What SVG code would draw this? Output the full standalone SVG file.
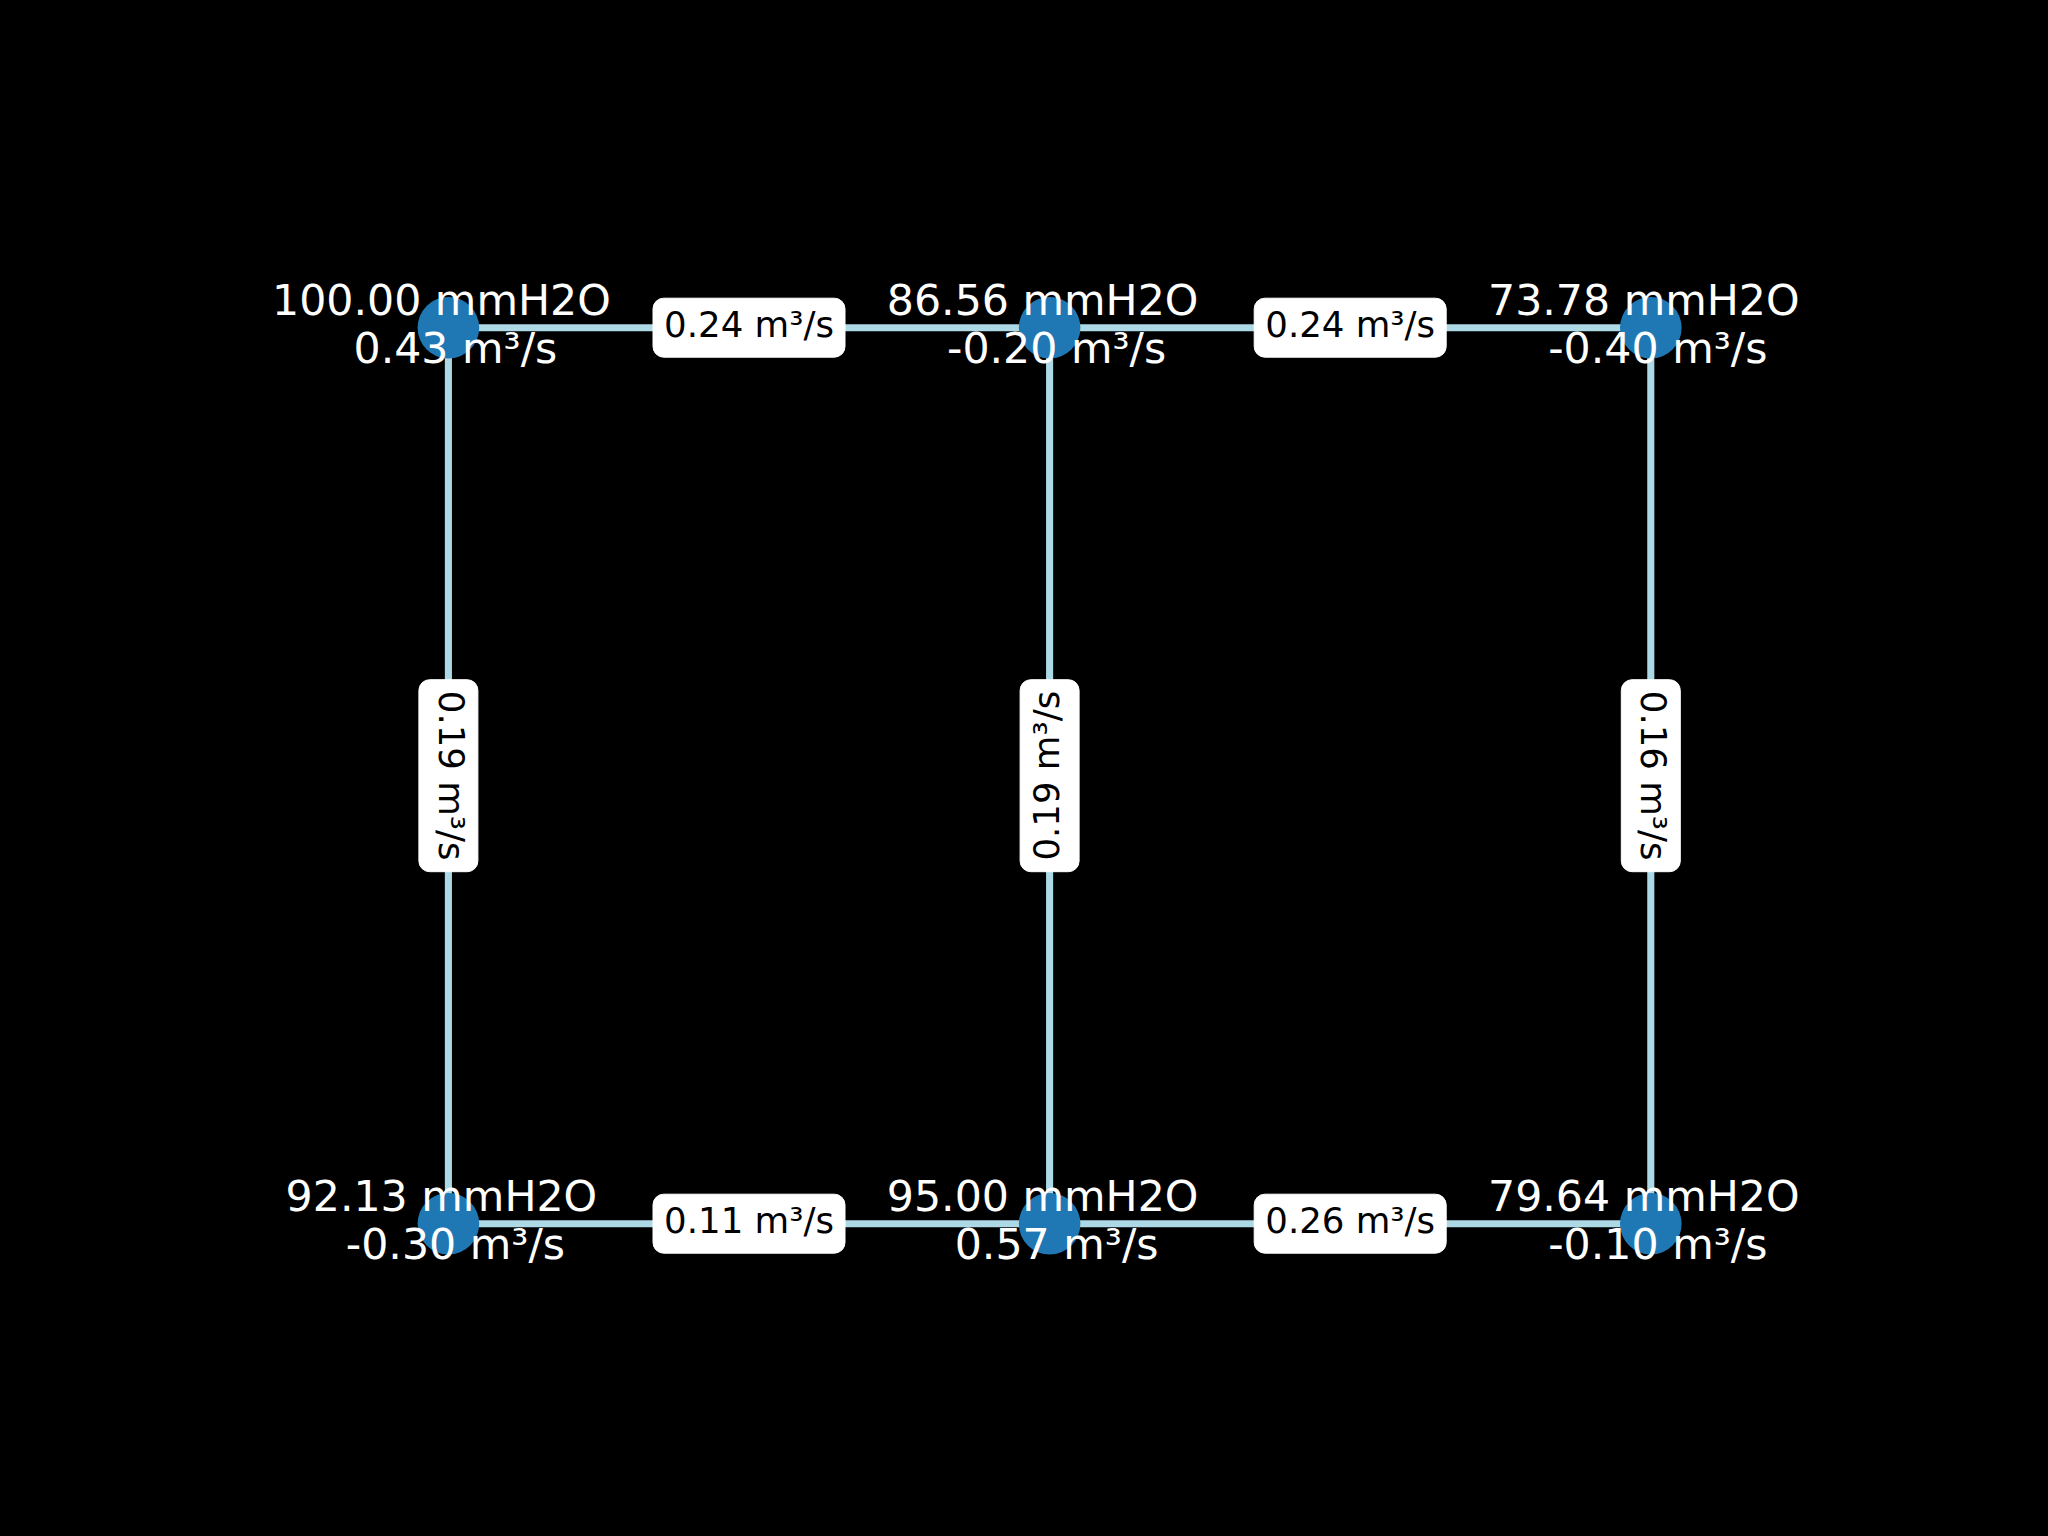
<svg xmlns="http://www.w3.org/2000/svg" width="2048" height="1536" viewBox="0 0 2048 1536">
<style>
.bg{fill:#000}
.edge{stroke:#add8e6;stroke-width:7.1;stroke-linecap:butt;fill:none}
.node{fill:#1f77b4}
.nl{font-family:"DejaVu Sans","Liberation Sans",sans-serif;font-size:42.67px;fill:#fff;text-anchor:middle}
.box{fill:#fff;stroke:#fff;stroke-width:1}
.el{font-family:"DejaVu Sans","Liberation Sans",sans-serif;font-size:35.56px;fill:#000;text-anchor:middle}
</style>
<defs>
<rect id="lb" class="box" x="-96" y="-29.5" width="192" height="59" rx="10.7" ry="10.7"/>
</defs>
<rect class="bg" x="0" y="0" width="2048" height="1536"/>
<g id="edges">
<line class="edge" x1="448.4" y1="327.7" x2="1049.6" y2="327.7"/>
<line class="edge" x1="1049.6" y1="327.7" x2="1650.8" y2="327.7"/>
<line class="edge" x1="448.4" y1="1223.7" x2="1049.6" y2="1223.7"/>
<line class="edge" x1="1049.6" y1="1223.7" x2="1650.8" y2="1223.7"/>
<line class="edge" x1="448.4" y1="327.7" x2="448.4" y2="1223.7"/>
<line class="edge" x1="1049.6" y1="327.7" x2="1049.6" y2="1223.7"/>
<line class="edge" x1="1650.8" y1="327.7" x2="1650.8" y2="1223.7"/>
</g>
<g id="edge-labels">
<g transform="translate(749,327.7)"><use href="#lb"/><text class="el" x="0" y="9.6">0.24 m³/s</text></g>
<g transform="translate(1350.2,327.7)"><use href="#lb"/><text class="el" x="0" y="9.6">0.24 m³/s</text></g>
<g transform="translate(749,1223.7)"><use href="#lb"/><text class="el" x="0" y="9.6">0.11 m³/s</text></g>
<g transform="translate(1350.2,1223.7)"><use href="#lb"/><text class="el" x="0" y="9.6">0.26 m³/s</text></g>
<g transform="translate(448.4,775.7) rotate(90)"><use href="#lb"/><text class="el" x="0" y="9.6">0.19 m³/s</text></g>
<g transform="translate(1049.6,775.7) rotate(-90)"><use href="#lb"/><text class="el" x="0" y="9.6">0.19 m³/s</text></g>
<g transform="translate(1650.8,775.7) rotate(90)"><use href="#lb"/><text class="el" x="0" y="9.6">0.16 m³/s</text></g>
</g>
<g id="node-tl"><circle class="node" cx="448.4" cy="327.7" r="30.8"/><text class="nl" x="441.4" y="315">100.00 mmH2O</text><text class="nl" x="455.4" y="363.3">0.43 m³/s</text></g>
<g id="node-tm"><circle class="node" cx="1049.6" cy="327.7" r="30.8"/><text class="nl" x="1042.6" y="315">86.56 mmH2O</text><text class="nl" x="1056.6" y="363.3">-0.20 m³/s</text></g>
<g id="node-tr"><circle class="node" cx="1650.8" cy="327.7" r="30.8"/><text class="nl" x="1643.8" y="315">73.78 mmH2O</text><text class="nl" x="1657.8" y="363.3">-0.40 m³/s</text></g>
<g id="node-bl"><circle class="node" cx="448.4" cy="1223.7" r="30.8"/><text class="nl" x="441.4" y="1211">92.13 mmH2O</text><text class="nl" x="455.4" y="1259.3">-0.30 m³/s</text></g>
<g id="node-bm"><circle class="node" cx="1049.6" cy="1223.7" r="30.8"/><text class="nl" x="1042.6" y="1211">95.00 mmH2O</text><text class="nl" x="1056.6" y="1259.3">0.57 m³/s</text></g>
<g id="node-br"><circle class="node" cx="1650.8" cy="1223.7" r="30.8"/><text class="nl" x="1643.8" y="1211">79.64 mmH2O</text><text class="nl" x="1657.8" y="1259.3">-0.10 m³/s</text></g>
</svg>
